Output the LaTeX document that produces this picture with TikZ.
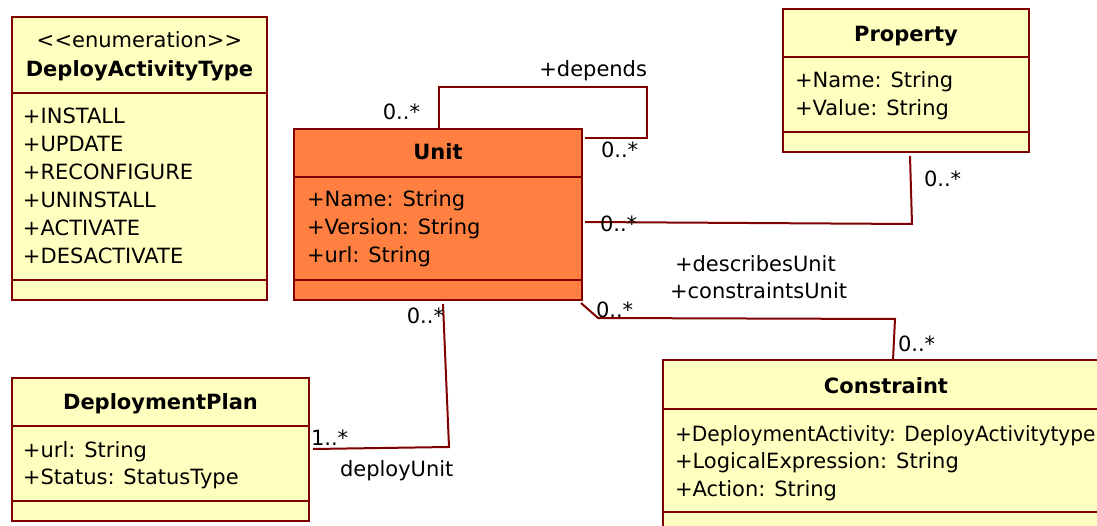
\documentclass[tikz,border=0pt]{standalone}
\usepackage{fontspec}
\setmainfont{DejaVu Sans}
\definecolor{bord}{RGB}{128,0,0}
\definecolor{cyel}{RGB}{255,255,192}
\definecolor{corg}{RGB}{255,128,64}
\begin{document}
\begin{tikzpicture}[x=1pt,y=-1pt,
  every node/.style={font=\fontsize{21}{28}\selectfont, inner sep=0pt, outer sep=0pt},
  classbox/.style={draw=bord, line width=2pt, rectangle, anchor=north west},
  sepline/.style={draw=bord, line width=2pt},
  conn/.style={draw=bord, line width=2pt},
  attr/.style={anchor=base west},
  ttl/.style={anchor=base, font=\fontsize{21}{28}\selectfont\bfseries},
  lbl/.style={anchor=base west},
  lble/.style={anchor=base east}]
\clip (0,0) rectangle (1097,526);
\fill[white] (0,0) rectangle (1097,526);

% DeployActivityType
\node[classbox, fill=cyel, minimum width=255pt, minimum height=283pt] (dat) at (12,17) {};
\draw[sepline] (12,93) -- (267,93);
\draw[sepline] (12,280) -- (267,280);
\node[anchor=base] (datst) at (139.5,48) {<\kern0.3pt<enumeration>\kern0.3pt>};
\node[ttl] (datt) at (139.5,77) {DeployActivityType};
\foreach \t [count=\i] in {+INSTALL,+UPDATE,+RECONFIGURE,+UNINSTALL,+ACTIVATE,+DESACTIVATE}
  \node[attr] (data\i) at (23,{124+28*(\i-1)}) {\t};

% Unit
\node[classbox, fill=corg, minimum width=288pt, minimum height=171pt] (unit) at (294,129) {};
\draw[sepline] (294,177) -- (582,177);
\draw[sepline] (294,280) -- (582,280);
\node[ttl] (unitt) at (438,160) {Unit};
\foreach \t [count=\i] in {+Name: String,+Version: String,+url: String}
  \node[attr] (unita\i) at (307,{207+28*(\i-1)}) {\t};

% Property
\node[classbox, fill=cyel, minimum width=246pt, minimum height=143pt] (prop) at (783,9) {};
\draw[sepline] (783,57) -- (1029,57);
\draw[sepline] (783,132) -- (1029,132);
\node[ttl] (propt) at (906,42) {Property};
\foreach \t [count=\i] in {+Name: String,+Value: String}
  \node[attr] (propa\i) at (795,{88+28*(\i-1)}) {\t};

% DeploymentPlan
\node[classbox, fill=cyel, minimum width=297pt, minimum height=143pt] (plan) at (12,378) {};
\draw[sepline] (12,426) -- (309,426);
\draw[sepline] (12,501) -- (309,501);
\node[ttl] (plant) at (160.5,409) {DeploymentPlan};
\foreach \t [count=\i] in {+url: String,+Status: StatusType}
  \node[attr] (plana\i) at (23,{457+27*(\i-1)}) {\t};

% Constraint
\node[classbox, fill=cyel, minimum width=446pt, minimum height=190pt] (cons) at (663,360) {};
\draw[sepline] (663,409) -- (1109,409);
\draw[sepline] (663,512) -- (1109,512);
\node[ttl] (const) at (886,393) {Constraint};
\node[attr, xscale=0.96] (consa1) at (675,441) {+DeploymentActivity: DeployActivitytype};
\node[attr] (consa2) at (675,468.5) {+LogicalExpression: String};
\node[attr] (consa3) at (675,496) {+Action: String};

% connectors
\coordinate (dep1) at (439,129);
\coordinate (dep2) at (585,138);
\draw[conn] (dep1) |- (647,87) |- (dep2);
\node[lble] (depl) at (647,77) {+depends};
\node[lble] (depm1) at (420,120) {0..*};
\node[lbl] (depm2) at (601,158) {0..*};

\coordinate (pu) at (585,222);
\coordinate (pp) at (910,156);
\draw[conn] (pu) -- (912,224) -- (pp);
\node[lbl] (pm1) at (600,232) {0..*};
\node[lbl] (pm2) at (924,187) {0..*};

\coordinate (cu) at (581,303);
\coordinate (cc) at (893,360);
\draw[conn] (cu) -- (598,318) -- (895,319) -- (cc);
\node[lbl] (cm1) at (596,318) {0..*};
\node[lbl] (cm2) at (898,352) {0..*};
\node[lbl] (cl1) at (675,272) {+describesUnit};
\node[lbl] (cl2) at (670,299) {+constraintsUnit};

\coordinate (du) at (443,304);
\coordinate (dp) at (313,449);
\draw[conn] (du) -- (449,447) -- (dp);
\node[lble] (dm1) at (444,324) {0..*};
\node[lbl] (dm2) at (311,445) {1..*};
\node[lbl] (dl) at (340,476) {deployUnit};
\end{tikzpicture}
\end{document}
